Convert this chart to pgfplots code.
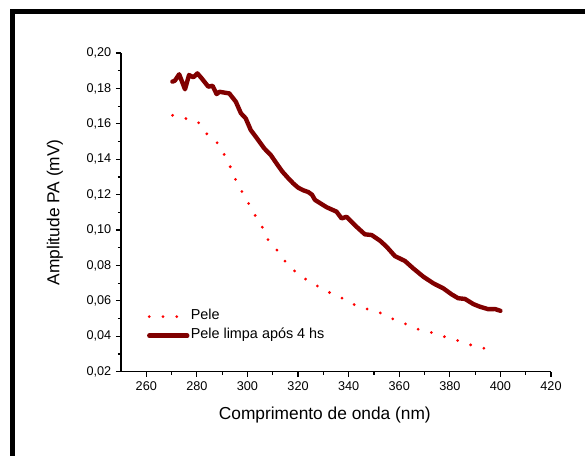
\documentclass[border=0pt]{standalone}
\usepackage{fontspec}
\setmainfont{Liberation Sans}
\usepackage{pgfplots}
\pgfplotsset{compat=1.18}
\definecolor{maroonline}{RGB}{128,0,0}
\definecolor{redline}{RGB}{255,0,0}
\begin{document}
\begin{tikzpicture}
\path[use as bounding box] (0,0) rectangle (438.75pt,342pt);
\begin{scope}
\clip (0,0) rectangle (438.75pt,342pt);
\draw[line width=3.75pt] (9.375pt,-20pt) -- (9.375pt,333.375pt) -- (460pt,333.375pt);
\end{scope}
\begin{axis}[
  at={(90.75pt,63.225pt)}, anchor=south west,
  scale only axis, width=322.5pt, height=239pt,
  xmin=250, xmax=420, ymin=0.02, ymax=0.20,
  axis lines*=left,
  axis line style={-, line width=0.9pt, black},
  every tick/.style={black, line width=0.9pt},
  tick align=outside,
  major tick length=3.75pt, minor tick length=2.3pt,
  xtick={260,280,300,320,340,360,380,400,420},
  minor xtick={270,290,310,330,350,370,390,410},
  ytick={0.02,0.04,0.06,0.08,0.10,0.12,0.14,0.16,0.18,0.20},
  minor ytick={0.03,0.05,0.07,0.09,0.11,0.13,0.15,0.17,0.19},
  /pgf/number format/assume math mode=true,
  yticklabel style={/pgf/number format/.cd, fixed, fixed zerofill, precision=2, use comma},
  ticklabel style={font=\fontsize{9.5}{11}\selectfont},
  label style={font=\fontsize{13}{15}\selectfont},
  xlabel={Comprimento de onda (nm)},
  ylabel={Amplitude PA (mV)},
  xlabel style={at={(axis description cs:0.474,-0.136)}, anchor=center},
  ylabel style={at={(axis description cs:-0.1535,0.5)}, anchor=center},
  legend style={draw=none, fill=none, at={(axis description cs:0.06,0.143)}, anchor=west,
    font=\fontsize{10.8}{13}\selectfont, row sep=0pt, inner sep=0pt,
    nodes={inner sep=1pt, text height=8.5pt, text depth=3.75pt, anchor=west}},
  legend cell align=left,
  legend image code/.code={\draw[#1] (0pt,0pt) -- (28.5pt,0pt);},
]
\addplot[redline, line width=2.3pt, line cap=round, dash pattern=on 0pt off 10.3pt, mark=none] coordinates {
(270.4,0.1648) (275.3,0.1631) (280.2,0.1615) (284.0,0.1542) (288.6,0.1486)
(291.4,0.1411) (294.0,0.1334) (296.0,0.1258) (299.3,0.1183) (301.9,0.1108)
(305.4,0.1031) (307.8,0.0951) (312.2,0.0878) (315.9,0.0803) (321.0,0.0740)
(326.4,0.0694) (331.7,0.0652) (337.0,0.0618) (342.5,0.0577) (347.8,0.0552)
(353.0,0.0530) (358.3,0.0492) (363.6,0.0464) (368.8,0.0432) (374.1,0.0417)
(379.6,0.0389) (384.9,0.0369) (390.2,0.0341) (395.5,0.0327) (397.0,0.0322)
};
\addlegendentry{Pele}
\addplot[maroonline, line width=3.3pt, line join=round, line cap=round, mark=none] coordinates {
(270.3,0.1838) (271.3,0.1844) (273.0,0.1880) (275.3,0.1795) (276.9,0.1876)
(278.6,0.1863) (280.2,0.1885) (281.9,0.1857) (284.5,0.1810) (286.2,0.1815)
(287.8,0.1768) (288.9,0.1781) (292.8,0.1772) (295.4,0.1725) (297.4,0.1660)
(299.3,0.1631) (301.3,0.1565) (303.3,0.1527) (306.6,0.1462) (309.2,0.1424)
(311.9,0.1368) (313.8,0.1330) (316.0,0.1295) (318.0,0.1265) (320.0,0.1240)
(322.0,0.1225) (324.0,0.1215) (325.5,0.1200) (326.7,0.1170) (331.3,0.1129)
(335.2,0.1104) (337.2,0.1066) (339.2,0.1075) (343.1,0.1019) (346.4,0.0976)
(349.1,0.0972) (352.4,0.0940) (355.0,0.0906) (358.3,0.0853) (362.3,0.0825)
(365.5,0.0784) (369.5,0.0737) (373.5,0.0699) (377.4,0.0671) (380.7,0.0637)
(383.3,0.0615) (386.0,0.0611) (389.3,0.0582) (391.9,0.0567) (395.2,0.0553)
(397.8,0.0554) (400.0,0.0544)
};
\addlegendentry{Pele limpa após 4 hs}
\end{axis}
\end{tikzpicture}
\end{document}
